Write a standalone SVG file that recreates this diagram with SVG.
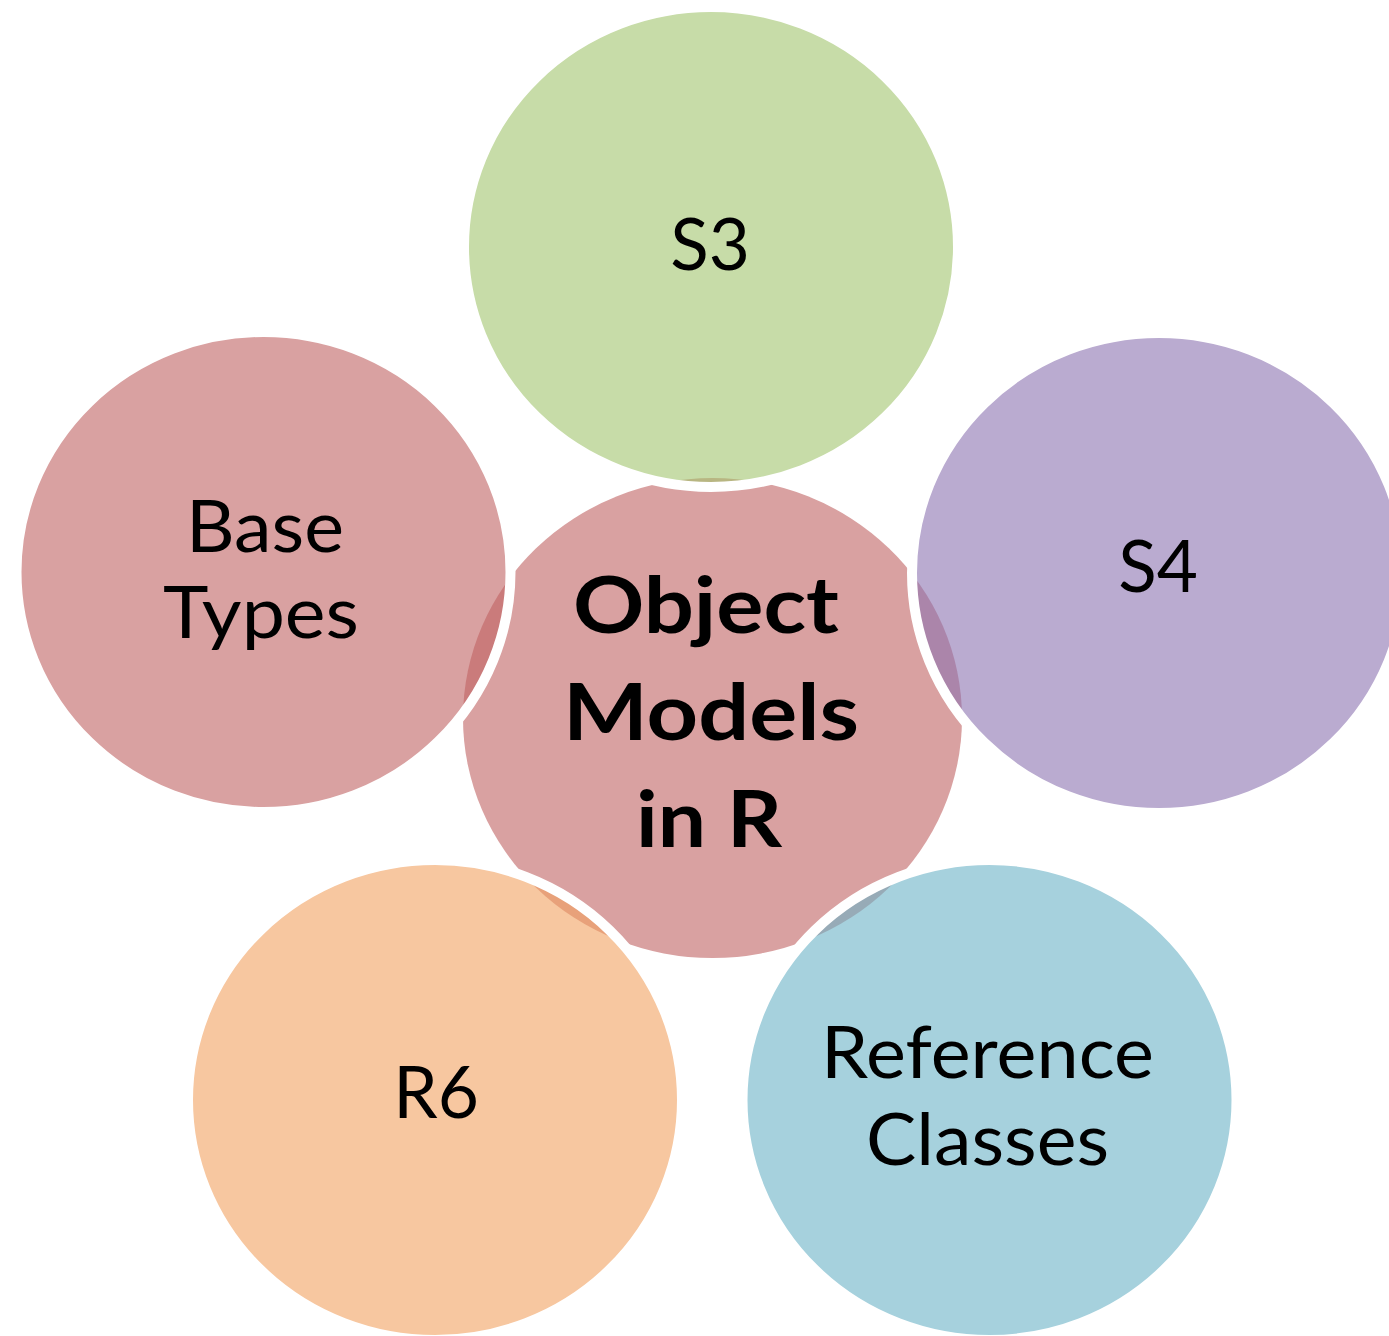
<svg xmlns="http://www.w3.org/2000/svg" width="1389" height="1336" viewBox="0 0 1389 1336">
  <style>
    .ring { stroke: #ffffff; stroke-width: 10; fill-opacity: 0.6; }
    .lbl { font-family: Lato, "Liberation Sans", sans-serif; font-size: 71px; fill: #000000; text-anchor: middle; }
    .hub { font-family: Lato, "Liberation Sans", sans-serif; font-size: 79px; font-weight: bold; fill: #000000; text-anchor: middle; }
  </style>
  <rect width="1389" height="1336" fill="#ffffff"/>

  <!-- central hub -->
  <g id="node-center">
    <ellipse cx="712.5" cy="718" rx="249.5" ry="240" fill="#d9a1a1"/>
  </g>

  <!-- satellites: translucent fills let the hub show through where they overlap -->
  <g id="node-s3">
    <ellipse class="ring" cx="711" cy="247" rx="247" ry="240" fill="#a2c56e"/>
    <text class="lbl" x="710" y="270">S3</text>
  </g>
  <g id="node-s4">
    <ellipse class="ring" cx="1159" cy="573" rx="247" ry="240" fill="#8c73b1"/>
    <text class="lbl" x="1158" y="592">S4</text>
  </g>
  <g id="node-base-types">
    <ellipse class="ring" cx="263.5" cy="572" rx="247" ry="240" fill="#c06262"/>
    <text class="lbl" x="265" y="552" textLength="158" lengthAdjust="spacingAndGlyphs">Base</text>
    <text class="lbl" x="261" y="638" textLength="196" lengthAdjust="spacingAndGlyphs">Types</text>
  </g>
  <g id="node-r6">
    <ellipse class="ring" cx="435" cy="1100" rx="247" ry="240" fill="#f2a261"/>
    <text class="lbl" x="436" y="1118">R6</text>
  </g>
  <g id="node-reference-classes">
    <ellipse class="ring" cx="989.5" cy="1100" rx="247" ry="240" fill="#6bb2c6"/>
    <text class="lbl" x="987.5" y="1078" textLength="333" lengthAdjust="spacingAndGlyphs">Reference</text>
    <text class="lbl" x="987.5" y="1165" textLength="243" lengthAdjust="spacingAndGlyphs">Classes</text>
  </g>

  <!-- hub label on top of everything -->
  <g id="label-center">
    <text class="hub" x="706" y="633" textLength="266" lengthAdjust="spacingAndGlyphs">Object</text>
    <text class="hub" x="711" y="740" textLength="296" lengthAdjust="spacingAndGlyphs">Models</text>
    <text class="hub" x="709" y="847" textLength="146" lengthAdjust="spacingAndGlyphs">in R</text>
  </g>

  <g id="connectors"/>
</svg>
